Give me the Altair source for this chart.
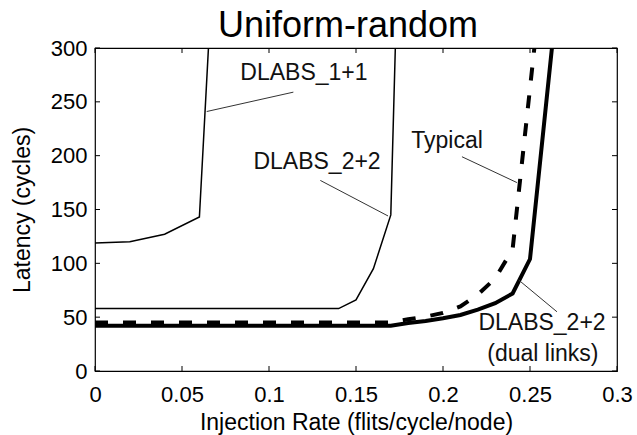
import altair as alt
import pandas as pd

# ---- data ----
x_ticks = [0, 0.05, 0.1, 0.15, 0.2, 0.25, 0.3]
y_ticks = [0, 50, 100, 150, 200, 250, 300]

dlabs11_x = [0.0, 0.02, 0.04, 0.06, 0.0652]
dlabs11_y = [119, 120, 127, 143, 300]

dlabs22_x = [0.0, 0.14, 0.15, 0.16, 0.17, 0.1726]
dlabs22_y = [58, 58, 66, 95, 145, 300]

typical_x = [0.0, 0.17, 0.18, 0.19, 0.2, 0.21, 0.22, 0.23, 0.24, 0.2525]
typical_y = [45, 45, 48, 50.5, 54, 60, 71, 86, 113, 300]

dual_x = [0.0, 0.17, 0.18, 0.19, 0.2, 0.21, 0.22, 0.23, 0.24, 0.25, 0.2626]
dual_y = [42, 42, 44.5, 46.5, 49, 52, 57, 63, 72, 104, 300]

# leader lines: name, (x0, y0), (x1, y1)
leader_names = ["l11", "l22", "ltyp", "ldual"]
leader_x0 = [0.0642, 0.1684, 0.2425, 0.2435]
leader_y0 = [241, 144, 175, 84.5]
leader_x1 = [0.114, 0.1295, 0.2109, 0.2655]
leader_y1 = [259, 177, 199, 55]

label_text = ["DLABS_1+1", "DLABS_2+2", "Typical", "DLABS_2+2", "(dual links)"]
label_x = [0.1201, 0.1276, 0.2023, 0.2569, 0.2574]
label_y = [277, 194, 213.5, 44.6, 15.8]

W, H = 522, 323
FONT = "Liberation Sans"

def series_df(xs, ys):
    return pd.DataFrame({"x": xs, "y": ys, "i": list(range(len(xs)))})

xscale = alt.Scale(domain=[0, 0.3], nice=False, zero=False)
yscale = alt.Scale(domain=[0, 300], nice=False, zero=False)

xaxis = alt.Axis(values=x_ticks, format="~g", title="Injection Rate (flits/cycle/node)",
                 ticks=False, domain=False, grid=False, labelPadding=13,
                 labelFontSize=22, titleFontSize=23, labelFont=FONT, titleFont=FONT,
                 labelColor="black", titleColor="black", titleFontWeight="normal",
                 titlePadding=6, labelFlush=False)
yaxis = alt.Axis(values=y_ticks, title="Latency (cycles)", ticks=False, domain=False,
                 grid=False, labelPadding=8, labelFontSize=22, titleFontSize=23,
                 labelFont=FONT, titleFont=FONT, labelColor="black", titleColor="black",
                 titleFontWeight="normal", titlePadding=16, labelFlush=False)

def X(field="x"):
    return alt.X(f"{field}:Q", scale=xscale, axis=xaxis)

def Y(field="y"):
    return alt.Y(f"{field}:Q", scale=yscale, axis=yaxis)

def line_layer(xs, ys, width, dash=None):
    kw = dict(color="black", strokeWidth=width, clip=True)
    if dash:
        kw["strokeDash"] = dash
    return alt.Chart(series_df(xs, ys)).mark_line(**kw).encode(
        x=X(), y=Y(), order="i:Q",
    )

l_dual = line_layer(dual_x, dual_y, 4)
l_typ = line_layer(typical_x, typical_y, 4, dash=[13, 15])
l_11 = line_layer(dlabs11_x, dlabs11_y, 1.5)
l_22 = line_layer(dlabs22_x, dlabs22_y, 1.5)

lead_rows = []
for n, a, b, c, d in zip(leader_names, leader_x0, leader_y0, leader_x1, leader_y1):
    lead_rows.append({"name": n, "x": a, "y": b, "i": 0})
    lead_rows.append({"name": n, "x": c, "y": d, "i": 1})
leaders = alt.Chart(pd.DataFrame(lead_rows)).mark_line(color="#333333", strokeWidth=1).encode(
    x=X(), y=Y(), detail="name:N", order="i:Q",
)

labels = alt.Chart(pd.DataFrame({"t": label_text, "x": label_x, "y": label_y})).mark_text(
    font=FONT, fontSize=23, color="#111111", align="center", baseline="middle"
).encode(x=X(), y=Y(), text="t:N")

xt = pd.DataFrame({"x": x_ticks})
yt = pd.DataFrame({"y": y_ticks})
tick_b = alt.Chart(xt).mark_rule(color="black", strokeWidth=1).encode(
    x=X(), y=alt.value(H), y2=alt.value(H - 5))
tick_t = alt.Chart(xt).mark_rule(color="black", strokeWidth=1).encode(
    x=X(), y=alt.value(0), y2=alt.value(5))
tick_l = alt.Chart(yt).mark_rule(color="black", strokeWidth=1).encode(
    y=Y(), x=alt.value(0), x2=alt.value(5))
tick_r = alt.Chart(yt).mark_rule(color="black", strokeWidth=1).encode(
    y=Y(), x=alt.value(W), x2=alt.value(W - 5))

chart = alt.layer(
    l_dual, l_typ, l_11, l_22, leaders, labels, tick_b, tick_t, tick_l, tick_r
).properties(
    width=W, height=H,
    title=alt.TitleParams("Uniform-random", fontSize=36, font=FONT, fontWeight="normal",
                          anchor="middle", baseline="alphabetic", offset=10, dx=-8, dy=46,
                          color="black"),
    autosize=alt.AutoSizeParams(type="none"),
    padding={"left": 95, "top": 48, "right": 20, "bottom": 64},
    background="white",
).configure_view(stroke="black", strokeWidth=1.2)

chart.save("out.html", embed_options={"renderer": "svg", "actions": False})
